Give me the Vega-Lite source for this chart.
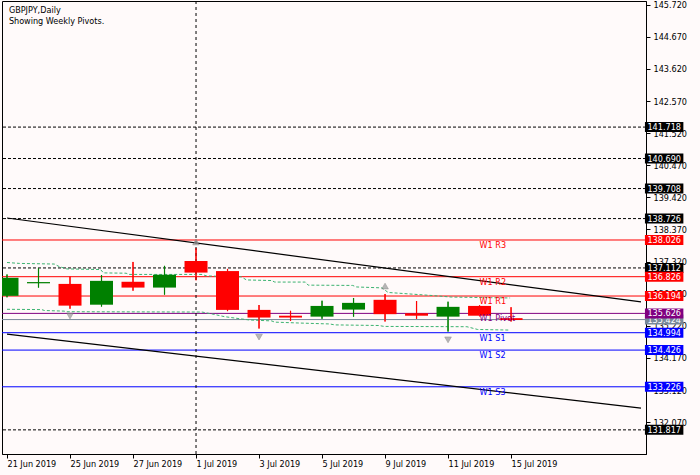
{
  "$schema": "https://vega.github.io/schema/vega-lite/v6.json",
  "width": 644,
  "height": 453,
  "autosize": {"type": "none"},
  "padding": {"left": 2, "top": 1, "right": 54, "bottom": 21},
  "background": "#fffafa",
  "config": {
    "view": {"stroke": "#000000", "strokeWidth": 1},
    "font": "DejaVu Sans Condensed",
    "axis": {"labelFont": "DejaVu Sans Condensed", "labelFontSize": 9, "labelColor": "#000000", "domainColor": "#000000", "tickColor": "#000000", "tickSize": 4, "grid": false, "title": null, "labelOverlap": false, "labelFlush": false, "labelBound": false}
  },
  "datasets": {
    "candles": [
      {"i": 0, "date": "21 Jun 2019", "open": 136.20, "high": 136.90, "low": 136.15, "close": 136.79},
      {"i": 1, "date": "24 Jun 2019", "open": 136.61, "high": 137.10, "low": 136.47, "close": 136.65},
      {"i": 2, "date": "25 Jun 2019", "open": 136.59, "high": 136.83, "low": 135.78, "close": 135.88},
      {"i": 3, "date": "26 Jun 2019", "open": 135.91, "high": 136.88, "low": 135.85, "close": 136.69},
      {"i": 4, "date": "27 Jun 2019", "open": 136.66, "high": 137.31, "low": 136.37, "close": 136.47},
      {"i": 5, "date": "28 Jun 2019", "open": 136.47, "high": 137.18, "low": 136.24, "close": 136.89},
      {"i": 6, "date": "1 Jul 2019", "open": 137.34, "high": 137.76, "low": 136.71, "close": 136.96},
      {"i": 7, "date": "2 Jul 2019", "open": 137.01, "high": 137.08, "low": 135.70, "close": 135.74},
      {"i": 8, "date": "3 Jul 2019", "open": 135.74, "high": 135.90, "low": 135.13, "close": 135.49},
      {"i": 9, "date": "4 Jul 2019", "open": 135.55, "high": 135.71, "low": 135.38, "close": 135.49},
      {"i": 10, "date": "5 Jul 2019", "open": 135.52, "high": 136.04, "low": 135.45, "close": 135.87},
      {"i": 11, "date": "8 Jul 2019", "open": 135.75, "high": 136.13, "low": 135.52, "close": 135.97},
      {"i": 12, "date": "9 Jul 2019", "open": 136.07, "high": 136.26, "low": 135.36, "close": 135.60},
      {"i": 13, "date": "10 Jul 2019", "open": 135.63, "high": 136.03, "low": 135.45, "close": 135.55},
      {"i": 14, "date": "11 Jul 2019", "open": 135.52, "high": 136.01, "low": 135.03, "close": 135.84},
      {"i": 15, "date": "12 Jul 2019", "open": 135.87, "high": 135.89, "low": 135.53, "close": 135.55},
      {"i": 16, "date": "15 Jul 2019", "open": 135.47, "high": 135.83, "low": 135.36, "close": 135.41}
    ],
    "levels": [
      {"price": 141.718, "kind": "black", "name": null},
      {"price": 140.690, "kind": "black", "name": null},
      {"price": 139.708, "kind": "black", "name": null},
      {"price": 138.726, "kind": "black", "name": null},
      {"price": 137.112, "kind": "black", "name": null},
      {"price": 131.817, "kind": "black", "name": null},
      {"price": 138.026, "kind": "R", "name": "W1  R3"},
      {"price": 136.826, "kind": "R", "name": "W1  R2"},
      {"price": 136.194, "kind": "R", "name": "W1  R1"},
      {"price": 135.424, "kind": "bid", "name": null},
      {"price": 135.626, "kind": "P", "name": "W1  Pivot"},
      {"price": 134.994, "kind": "S", "name": "W1  S1"},
      {"price": 134.426, "kind": "S", "name": "W1  S2"},
      {"price": 133.226, "kind": "S", "name": "W1  S3"}
    ],
    "bands": [
      {"band": "upper", "i": 0, "p": 137.29},
      {"band": "upper", "i": 0.4, "p": 137.26},
      {"band": "upper", "i": 1.5, "p": 137.24},
      {"band": "upper", "i": 1.65, "p": 137.16},
      {"band": "upper", "i": 1.9, "p": 137.08},
      {"band": "upper", "i": 2.97, "p": 137.06},
      {"band": "upper", "i": 3.06, "p": 136.95},
      {"band": "upper", "i": 3.78, "p": 136.94},
      {"band": "upper", "i": 3.87, "p": 136.90},
      {"band": "upper", "i": 6.19, "p": 136.90},
      {"band": "upper", "i": 6.34, "p": 136.85},
      {"band": "upper", "i": 7.44, "p": 136.82},
      {"band": "upper", "i": 7.6, "p": 136.72},
      {"band": "upper", "i": 8.4, "p": 136.70},
      {"band": "upper", "i": 8.5, "p": 136.65},
      {"band": "upper", "i": 9.47, "p": 136.65},
      {"band": "upper", "i": 9.56, "p": 136.55},
      {"band": "upper", "i": 10.97, "p": 136.54},
      {"band": "upper", "i": 11.1, "p": 136.49},
      {"band": "upper", "i": 11.9, "p": 136.46},
      {"band": "upper", "i": 12.1, "p": 136.31},
      {"band": "upper", "i": 13.5, "p": 136.21},
      {"band": "upper", "i": 14.1, "p": 136.16},
      {"band": "upper", "i": 15.97, "p": 136.13},
      {"band": "lower", "i": 0, "p": 135.76},
      {"band": "lower", "i": 1.1, "p": 135.75},
      {"band": "lower", "i": 1.19, "p": 135.72},
      {"band": "lower", "i": 1.81, "p": 135.70},
      {"band": "lower", "i": 1.9, "p": 135.68},
      {"band": "lower", "i": 6.19, "p": 135.67},
      {"band": "lower", "i": 6.5, "p": 135.61},
      {"band": "lower", "i": 6.9, "p": 135.52},
      {"band": "lower", "i": 7.4, "p": 135.45},
      {"band": "lower", "i": 7.7, "p": 135.41},
      {"band": "lower", "i": 8.4, "p": 135.38},
      {"band": "lower", "i": 8.5, "p": 135.34},
      {"band": "lower", "i": 9.3, "p": 135.31},
      {"band": "lower", "i": 10.25, "p": 135.28},
      {"band": "lower", "i": 10.4, "p": 135.25},
      {"band": "lower", "i": 11.8, "p": 135.23},
      {"band": "lower", "i": 11.97, "p": 135.20},
      {"band": "lower", "i": 14.6, "p": 135.19},
      {"band": "lower", "i": 14.94, "p": 135.10},
      {"band": "lower", "i": 15.97, "p": 135.08}
    ],
    "trend": [
      {"line": "upper", "i": 0, "p": 138.745},
      {"line": "upper", "i": 20.125, "p": 136.00},
      {"line": "lower", "i": 0, "p": 134.95},
      {"line": "lower", "i": 20.125, "p": 132.53}
    ],
    "fractals": [
      {"i": 2, "p": 135.54, "dir": "down"},
      {"i": 6, "p": 137.96, "dir": "up"},
      {"i": 8, "p": 134.85, "dir": "down"},
      {"i": 12, "p": 136.52, "dir": "up"},
      {"i": 14, "p": 134.76, "dir": "down"}
    ],
    "separators": [{"i": 6, "date": "1 Jul 2019"}]
  },
  "layer": [
    {
      "data": {"name": "candles"},
      "mark": {"type": "rule", "clip": true, "strokeWidth": 1},
      "encoding": {
        "x": {"field": "i", "type": "quantitative", "scale": {"domain": [0, 20.125], "nice": false, "zero": false},
              "axis": {"orient": "bottom", "values": [0, 2, 4, 6, 8, 10, 12, 14, 16], "tickCount": 30, "labelAlign": "left", "labelBaseline": "top", "labelPadding": 1, "labelOverlap": false,
                       "labelExpr": "['21 Jun 2019','24 Jun 2019','25 Jun 2019','26 Jun 2019','27 Jun 2019','28 Jun 2019','1 Jul 2019','2 Jul 2019','3 Jul 2019','4 Jul 2019','5 Jul 2019','8 Jul 2019','9 Jul 2019','10 Jul 2019','11 Jul 2019','12 Jul 2019','15 Jul 2019'][datum.value]"}},
        "y": {"field": "low", "type": "quantitative", "scale": {"domain": [131.028, 145.841], "nice": false, "zero": false},
              "axis": {"orient": "right", "values": [132.07, 133.12, 134.17, 135.22, 136.27, 137.32, 138.37, 139.42, 140.47, 141.52, 142.57, 143.62, 144.67, 145.72], "tickCount": 30, "format": ".3f", "labelPadding": 3, "labelOverlap": false, "labelFlush": false, "labelBound": false}},
        "y2": {"field": "high"},
        "color": {"condition": {"test": "datum.close >= datum.open", "value": "#008000"}, "value": "#ff0000"}
      }
    },
    {
      "data": {"name": "levels"},
      "transform": [{"filter": "datum.kind === 'black'"}],
      "mark": {"type": "rule", "color": "#000000", "strokeDash": [3, 2], "strokeWidth": 1},
      "encoding": {"y": {"field": "price", "type": "quantitative"}}
    },
    {
      "data": {"name": "levels"},
      "transform": [{"filter": "datum.kind !== 'black'"}],
      "mark": {"type": "rule", "strokeWidth": 1},
      "encoding": {
        "y": {"field": "price", "type": "quantitative"},
        "color": {"field": "kind", "type": "nominal", "scale": {"domain": ["black", "R", "P", "bid", "S"], "range": ["#000000", "#ff0000", "#800080", "#778899", "#0000ff"]}, "legend": null}
      }
    },
    {
      "data": {"name": "separators"},
      "mark": {"type": "rule", "color": "#000000", "strokeDash": [3, 3], "strokeWidth": 1},
      "encoding": {"x": {"field": "i", "type": "quantitative"}}
    },
    {
      "data": {"name": "bands"},
      "mark": {"type": "line", "color": "#3cb371", "strokeDash": [3, 2], "strokeWidth": 1, "clip": true},
      "encoding": {
        "x": {"field": "i", "type": "quantitative"},
        "y": {"field": "p", "type": "quantitative"},
        "detail": {"field": "band"}
      }
    },
    {
      "data": {"name": "trend"},
      "mark": {"type": "line", "color": "#000000", "strokeWidth": 1.2, "clip": true},
      "encoding": {
        "x": {"field": "i", "type": "quantitative"},
        "y": {"field": "p", "type": "quantitative"},
        "detail": {"field": "line"}
      }
    },
    {
      "data": {"name": "candles"},
      "mark": {"type": "rule", "clip": true, "strokeWidth": 1.2},
      "encoding": {
        "x": {"field": "i", "type": "quantitative"},
        "y": {"field": "low", "type": "quantitative"},
        "y2": {"field": "high"},
        "color": {"condition": {"test": "datum.close >= datum.open", "value": "#008000"}, "value": "#ff0000"}
      }
    },
    {
      "data": {"name": "candles"},
      "mark": {"type": "bar", "size": 23, "clip": true},
      "encoding": {
        "x": {"field": "i", "type": "quantitative"},
        "y": {"field": "open", "type": "quantitative"},
        "y2": {"field": "close"},
        "color": {"condition": {"test": "datum.close >= datum.open", "value": "#008000"}, "value": "#ff0000"}
      }
    },
    {
      "data": {"name": "fractals"},
      "mark": {"type": "point", "filled": true, "size": 45, "color": "#9a9a9a", "stroke": "#606060", "strokeWidth": 0.5},
      "encoding": {
        "x": {"field": "i", "type": "quantitative"},
        "y": {"field": "p", "type": "quantitative"},
        "shape": {"field": "dir", "type": "nominal", "scale": {"domain": ["up", "down"], "range": ["triangle-up", "triangle-down"]}, "legend": null}
      }
    },
    {
      "data": {"name": "levels"},
      "transform": [{"filter": "datum.name !== null"}],
      "mark": {"type": "text", "align": "left", "baseline": "top", "dy": 1, "fontSize": 9, "font": "DejaVu Sans Condensed"},
      "encoding": {
        "x": {"datum": 15.0},
        "y": {"field": "price", "type": "quantitative"},
        "text": {"field": "name"},
        "color": {"field": "kind", "type": "nominal", "legend": null}
      }
    },
    {
      "data": {"name": "levels"},
      "transform": [{"filter": "datum.kind === 'bid'"}],
      "layer": [
        {"mark": {"type": "rule", "strokeWidth": 10, "strokeCap": "butt", "clip": false},
         "encoding": {"x": {"datum": 20.25}, "x2": {"datum": 21.47}, "y": {"field": "price", "type": "quantitative"},
                      "color": {"field": "kind", "type": "nominal", "legend": null}}},
        {"mark": {"type": "text", "align": "left", "baseline": "middle", "fontSize": 9, "color": "#ffffff", "font": "DejaVu Sans Condensed", "clip": false},
         "encoding": {"x": {"datum": 20.33}, "y": {"field": "price", "type": "quantitative"}, "text": {"field": "price", "type": "quantitative", "format": ".3f"}}}
      ]
    },
    {
      "data": {"name": "levels"},
      "transform": [{"filter": "datum.kind !== 'bid'"}],
      "layer": [
        {"mark": {"type": "rule", "strokeWidth": 10, "strokeCap": "butt", "clip": false},
         "encoding": {"x": {"datum": 20.25}, "x2": {"datum": 21.47}, "y": {"field": "price", "type": "quantitative"},
                      "color": {"field": "kind", "type": "nominal", "legend": null}}},
        {"mark": {"type": "text", "align": "left", "baseline": "middle", "fontSize": 9, "color": "#ffffff", "font": "DejaVu Sans Condensed", "clip": false},
         "encoding": {"x": {"datum": 20.33}, "y": {"field": "price", "type": "quantitative"}, "text": {"field": "price", "type": "quantitative", "format": ".3f"}}}
      ]
    },
    {
      "data": {"values": [{"caption": "GBPJPY,Daily"}]},
      "mark": {"type": "text", "align": "left", "baseline": "middle", "fontSize": 9, "color": "#000000", "font": "DejaVu Sans Condensed"},
      "encoding": {"x": {"datum": 0.06}, "y": {"datum": 145.55}, "text": {"field": "caption"}}
    },
    {
      "data": {"values": [{"caption": "Showing Weekly Pivots."}]},
      "mark": {"type": "text", "align": "left", "baseline": "middle", "fontSize": 9, "color": "#000000", "font": "DejaVu Sans Condensed"},
      "encoding": {"x": {"datum": 0.06}, "y": {"datum": 145.19}, "text": {"field": "caption"}}
    }
  ]
}
